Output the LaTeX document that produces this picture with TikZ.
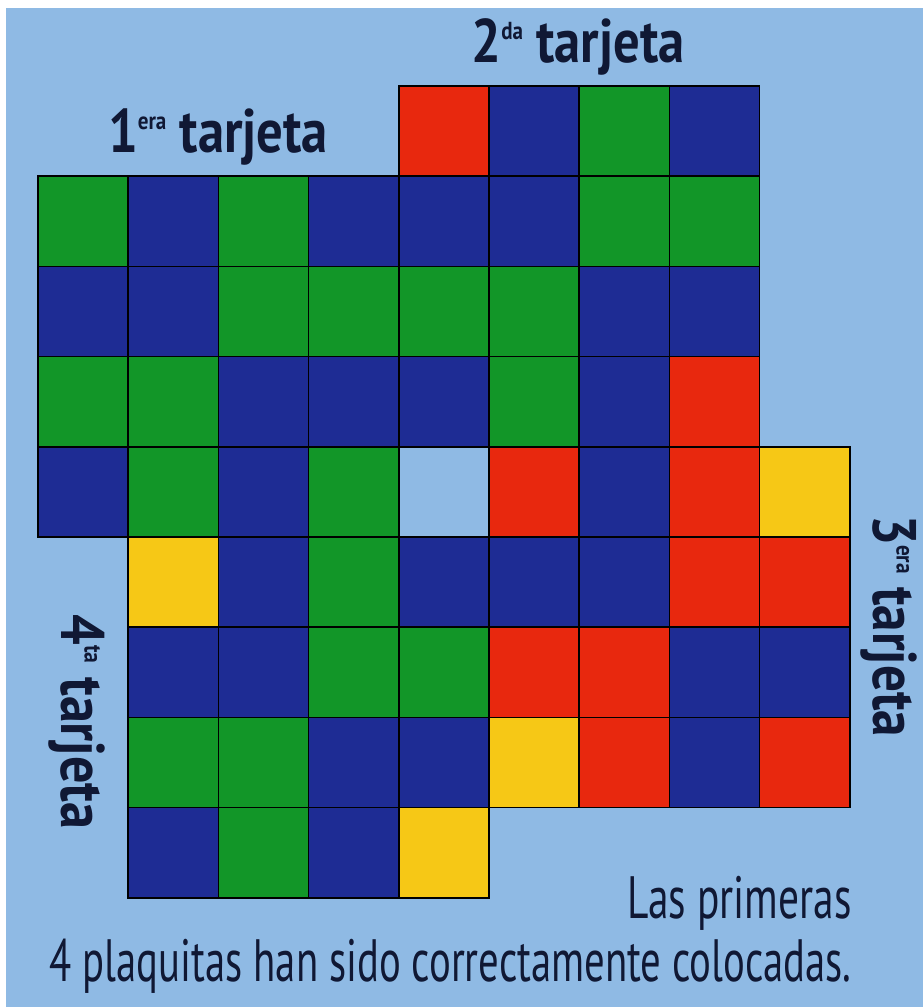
\documentclass[tikz,border=0pt]{standalone}
\usepackage{fontspec}
\setmainfont{PT Sans}
\usepackage{graphicx}
\usepackage{xcolor}
\definecolor{tsky}{RGB}{143,186,228}
\definecolor{tblue}{RGB}{30,44,148}
\definecolor{tgreen}{RGB}{18,150,40}
\definecolor{tred}{RGB}{232,40,14}
\definecolor{tyellow}{RGB}{246,200,22}
\definecolor{tink}{RGB}{16,24,52}
\newcommand{\ordsup}[1]{\raisebox{13.5pt}{\fontsize{14}{14}\selectfont #1}}
\newcommand{\squeeze}[2]{\resizebox{#1}{\height}{#2}}

\begin{document}
\begin{tikzpicture}[%
        x=0.02cm, y=-0.02cm,
        every node/.style={inner sep=0pt, text=tink},
        cell/.style={draw=black, line width=1pt},
        title/.style={font=\bfseries\fontsize{35}{35}\selectfont, anchor=base},
        note/.style={font=\fontsize{34}{34}\selectfont, anchor=base east}
      ]
      \useasboundingbox (0,0) rectangle (923,1007);
      \fill[white] (0,0) rectangle (923,1007);
      \fill[tsky] (6,8) rectangle (923,1007);
      \foreach \c [count=\i from 4] in {tred,tblue,tgreen,tblue}
        \draw[cell, fill=\c] ({38+90.2*\i},86) rectangle ++(90.2,90.2);
      \foreach \c [count=\i from 0] in {tgreen,tblue,tgreen,tblue,tblue,tblue,tgreen,tgreen}
        \draw[cell, fill=\c] ({38+90.2*\i},176.2) rectangle ++(90.2,90.2);
      \foreach \c [count=\i from 0] in {tblue,tblue,tgreen,tgreen,tgreen,tgreen,tblue,tblue}
        \draw[cell, fill=\c] ({38+90.2*\i},266.4) rectangle ++(90.2,90.2);
      \foreach \c [count=\i from 0] in {tgreen,tgreen,tblue,tblue,tblue,tgreen,tblue,tred}
        \draw[cell, fill=\c] ({38+90.2*\i},356.6) rectangle ++(90.2,90.2);
      \foreach \c [count=\i from 0] in {tblue,tgreen,tblue,tgreen}
        \draw[cell, fill=\c] ({38+90.2*\i},446.8) rectangle ++(90.2,90.2);
      \foreach \c [count=\i from 5] in {tred,tblue,tred,tyellow}
        \draw[cell, fill=\c] ({38+90.2*\i},446.8) rectangle ++(90.2,90.2);
      \foreach \c [count=\i from 1] in {tyellow,tblue,tgreen,tblue,tblue,tblue,tred,tred}
        \draw[cell, fill=\c] ({38+90.2*\i},537) rectangle ++(90.2,90.2);
      \foreach \c [count=\i from 1] in {tblue,tblue,tgreen,tgreen,tred,tred,tblue,tblue}
        \draw[cell, fill=\c] ({38+90.2*\i},627.2) rectangle ++(90.2,90.2);
      \foreach \c [count=\i from 1] in {tgreen,tgreen,tblue,tblue,tyellow,tred,tblue,tred}
        \draw[cell, fill=\c] ({38+90.2*\i},717.4) rectangle ++(90.2,90.2);
      \foreach \c [count=\i from 1] in {tblue,tgreen,tblue,tyellow}
        \draw[cell, fill=\c] ({38+90.2*\i},807.6) rectangle ++(90.2,90.2);
      \node [title] (t2) at (578,63) {\squeeze{4.26cm}{2\ordsup{da} tarjeta}};
      \node [title] (t1) at (218,153) {\squeeze{4.4cm}{1\ordsup{era} tarjeta}};
      \node [title, rotate=-90] (t3) at (873,626) {\squeeze{4.44cm}{3\ordsup{era} tarjeta}};
      \node [title, rotate=-90] (t4) at (61,722) {\squeeze{4.3cm}{4\ordsup{ta} tarjeta}};
      \node [note] (n1) at (852,918) {\squeeze{4.48cm}{Las primeras}};
      \node [note] (n2) at (852,981) {\squeeze{16.04cm}{4 plaquitas han sido correctamente colocadas.}};
    \end{tikzpicture}
\end{document}
